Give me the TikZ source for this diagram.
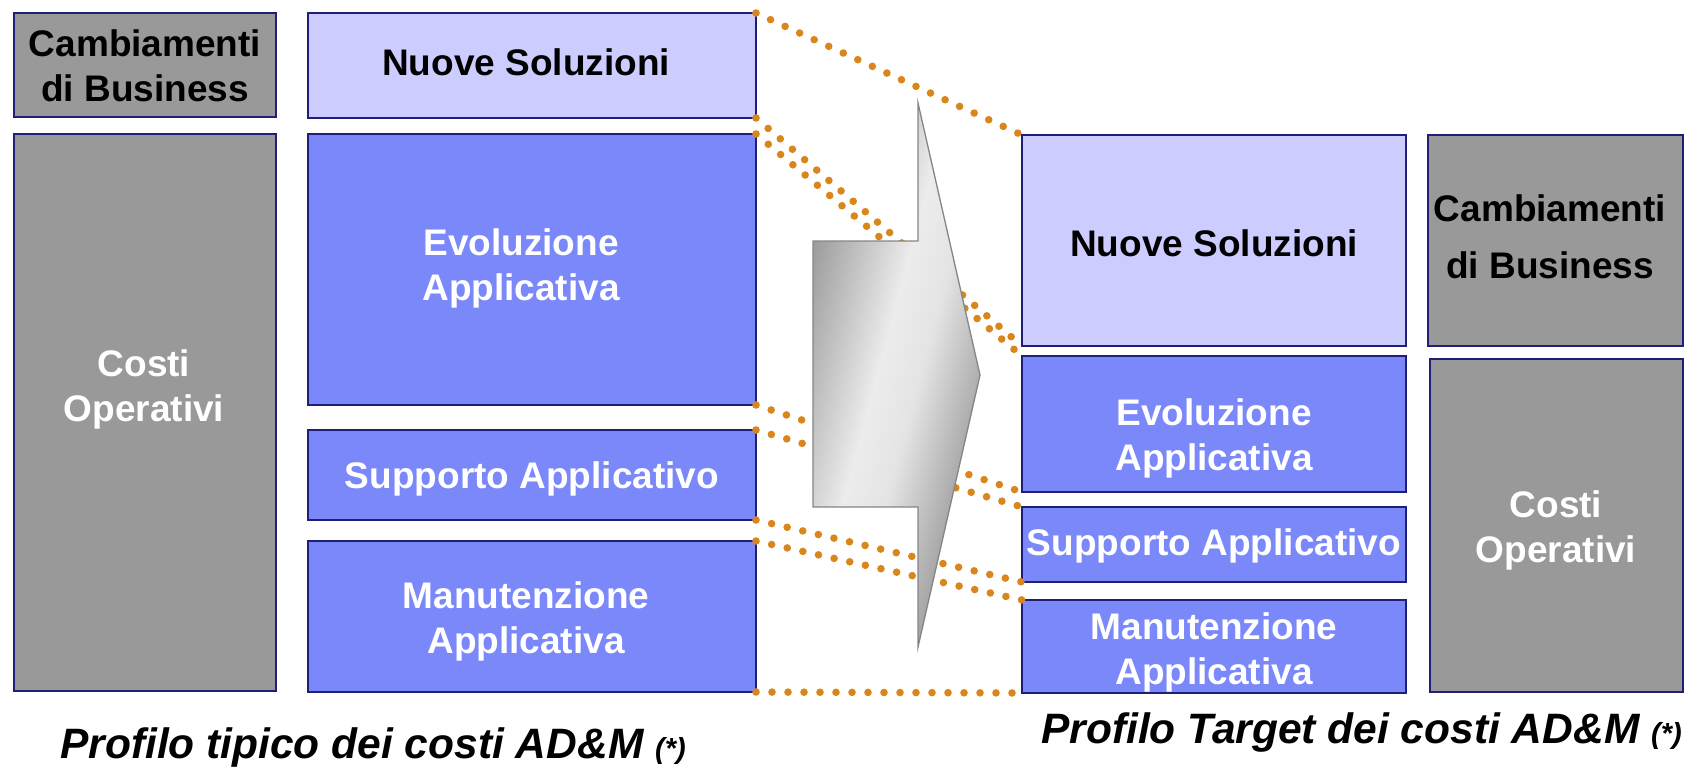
\documentclass[tikz,border=0pt]{standalone}
\usepackage{fontspec}
\setmainfont{Liberation Sans}
\definecolor{grayfill}{HTML}{999999}
\definecolor{lav}{HTML}{CCCCFF}
\definecolor{blu}{HTML}{7B88FA}
\definecolor{navy}{HTML}{1F1F78}
\definecolor{dotc}{HTML}{D9861C}
\definecolor{arrowedge}{HTML}{858585}
\definecolor{shadeA}{HTML}{979797}
\definecolor{shadeB}{HTML}{ECECEC}
\definecolor{shadeD}{HTML}{E4E4E4}
\definecolor{shadeC}{HTML}{A6A6A6}
\pgfdeclarehorizontalshading{arrowshade}{100bp}{color(0bp)=(shadeA); color(40bp)=(shadeA); color(48.5bp)=(shadeB); color(52bp)=(shadeD); color(57.5bp)=(shadeC); color(100bp)=(shadeC)}
\begin{document}
\begin{tikzpicture}[x=1pt,y=-1pt,
  boxbase/.style={draw=navy, line width=1.6pt, inner sep=0pt, outer sep=0pt, rectangle},
  graybox/.style={boxbase, fill=grayfill},
  lavbox/.style={boxbase, fill=lav},
  blubox/.style={boxbase, fill=blu},
  btxt/.style={font=\fontsize{37}{45}\selectfont\bfseries, align=center, text=black, inner sep=0pt},
  wtxt/.style={btxt, text=white},
  dotline/.style={draw=dotc, line width=7.6pt, line cap=round, dash pattern=on 0pt off 16pt},
  captxt/.style={font=\fontsize{42.5}{50}\selectfont\bfseries\itshape, anchor=base west, inner sep=0pt}
]
\useasboundingbox (0,0) rectangle (1693,768);

% boxes (left profile)
\node[graybox, minimum width=262pt, minimum height=104pt] (lcb) at (145,65) {};
\node[graybox, minimum width=262pt, minimum height=557pt] (lco) at (145,412.5) {};
\node[lavbox, minimum width=448pt, minimum height=105pt] (lns) at (532,65.5) {};
\node[blubox, minimum width=448pt, minimum height=271pt] (levo) at (532,269.5) {};
\node[blubox, minimum width=448pt, minimum height=90pt] (lsup) at (532,475) {};
\node[blubox, minimum width=448pt, minimum height=151pt] (lman) at (532,616.5) {};

% boxes (right profile)
\node[lavbox, minimum width=384pt, minimum height=211pt] (rns) at (1214,240.5) {};
\node[blubox, minimum width=384pt, minimum height=136pt] (revo) at (1214,424) {};
\node[blubox, minimum width=384pt, minimum height=75pt] (rsup) at (1214,544.5) {};
\node[blubox, minimum width=384pt, minimum height=93pt] (rman) at (1214,646.5) {};
\node[graybox, minimum width=255pt, minimum height=211pt] (rcb) at (1555.5,240.5) {};
\node[graybox, minimum width=253pt, minimum height=333pt] (rco) at (1556.5,525.5) {};

% dotted connectors
\draw[dotline] (lns.north east) -- (rns.north west);
\draw[dotline] (lns.south east) -- (rns.south west);
\draw[dotline] (levo.north east) -- (revo.north west);
\draw[dotline] (levo.south east) -- (revo.south west);
\draw[dotline] (lsup.north east) -- (rsup.north west);
\draw[dotline] (lsup.south east) -- (rsup.south west);
\draw[dotline] (lman.north east) -- (rman.north west);
\draw[dotline] (lman.south east) -- (rman.south west);

% big arrow
\begin{scope}
\clip (813,241) -- (918,241) -- (918,103) -- (980,375) -- (918,647) -- (918,507) -- (813,507) -- cycle;
\shade[shading=arrowshade, shading angle=-15] (596,75) rectangle (1196,675);
\end{scope}
\draw[arrowedge, line width=1.3pt, line join=miter]
  (813,241) -- (918,241) -- (918,103) -- (980,375) -- (918,647) -- (918,507) -- (813,507) -- cycle;

% texts left
\node[btxt] (tlcb) at (145,66) {Cambiamenti\\di Business};
\node[btxt] (tlns) at (526,62) {Nuove Soluzioni};
\node[wtxt] (tlevo) at (521,268) {Evoluzione\\Applicativa};
\node[wtxt] (tlco) at (144,389) {Costi\\Operativi};
\node[wtxt] (tlsup) at (532,479) {Supporto Applicativo};
\node[wtxt] (tlman) at (526,621) {Manutenzione\\Applicativa};

% texts right
\node[btxt] (trns) at (1214,243) {Nuove Soluzioni};
\node[btxt, font=\fontsize{37}{57}\selectfont\bfseries] (trcb) at (1550,237) {Cambiamenti\\di Business};
\node[wtxt] (trevo) at (1214,438) {Evoluzione\\Applicativa};
\node[wtxt] (trsup) at (1214,546) {Supporto Applicativo};
\node[wtxt] (trman) at (1214,652) {Manutenzione\\Applicativa};
\node[wtxt] (trco) at (1556,530) {Costi\\Operativi};

% captions
\node[captxt] (capl) at (60,758) {Profilo tipico dei costi AD\&M {\fontsize{29}{32}\selectfont (*)}};
\node[captxt] (capr) at (1041,743) {Profilo Target dei costi AD\&M {\fontsize{29}{32}\selectfont (*)}};
\end{tikzpicture}
\end{document}
